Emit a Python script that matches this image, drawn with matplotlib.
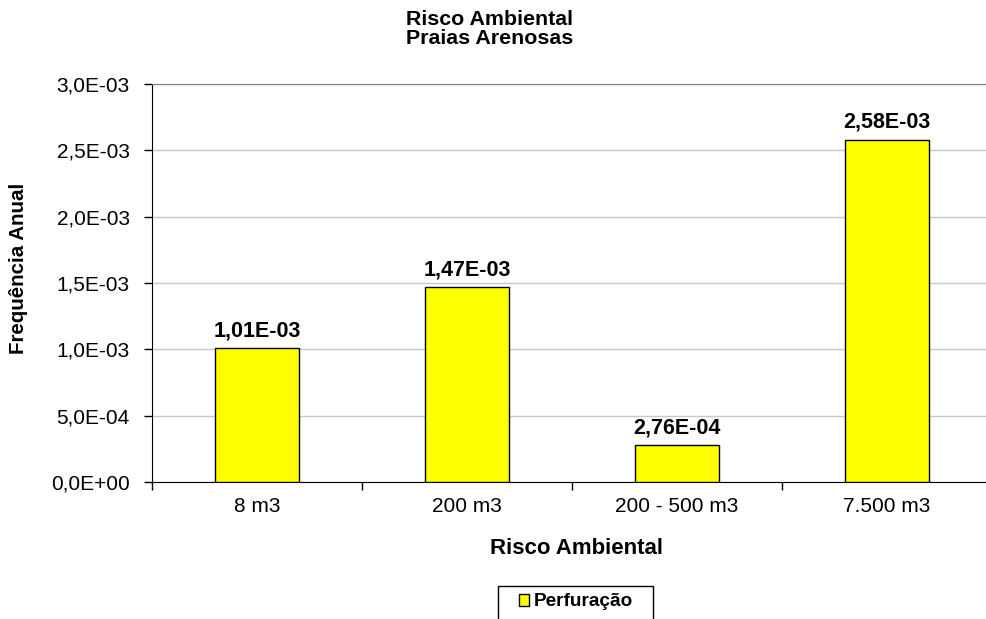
import matplotlib
matplotlib.use('Agg')
import matplotlib.pyplot as plt
from matplotlib.ticker import FuncFormatter, FixedLocator
from matplotlib.patches import Rectangle

plt.rcParams['font.family'] = ['Liberation Sans', 'DejaVu Sans']

# Dados
categorias = ['8 m3', '200 m3', '200 - 500 m3', '7.500 m3']
valores = [1.01e-03, 1.47e-03, 2.76e-04, 2.58e-03]
rotulos = ['1,01E-03', '1,47E-03', '2,76E-04', '2,58E-03']
serie = 'Perfuração'

W, H = 987, 619
fig = plt.figure(figsize=(W / 100, H / 100), dpi=100)
ax = fig.add_axes([152 / W, 1 - 482 / H, 840 / W, 398 / H])

x = list(range(len(categorias)))
ax.bar(x, valores, width=0.4, color='#ffff00', edgecolor='black', linewidth=1, zorder=3)

# Rótulos de dados
for xi, v, r in zip(x, valores, rotulos):
    ax.annotate(r, (xi, v), xytext=(0, 5), textcoords='offset points',
                ha='center', va='bottom', fontsize=15.5, fontweight='bold')

ax.set_xlim(-0.5, len(categorias) - 0.5)
ax.set_ylim(0, 3.0e-03)
ax.set_yticks([i * 5e-04 for i in range(7)])
ax.yaxis.set_major_formatter(FuncFormatter(lambda v, p: f"{v:.1E}".replace('.', ',')))
ax.grid(axis='y', color='#c8c8c8', linewidth=1, zorder=0)

# ticks do eixo x nas divisões entre categorias
ax.set_xticks(x)
ax.set_xticklabels(categorias)
ax.tick_params(axis='x', which='major', length=0, labelsize=15, pad=11)
ax.xaxis.set_minor_locator(FixedLocator([i - 0.5 for i in range(len(categorias) + 1)]))
ax.tick_params(axis='x', which='minor', length=6, width=1, direction='out')
ax.tick_params(axis='y', length=6, width=1, direction='out', labelsize=15, pad=10)

for s in ['top', 'right']:
    ax.spines[s].set_color('#808080')
for s in ['left', 'bottom']:
    ax.spines[s].set_color('black')

fig.text(577 / W, 1 - 549 / H, 'Risco Ambiental', ha='center', va='center',
         fontsize=16, fontweight='bold')
fig.text(19 / W, 1 - 268 / H, 'Frequência Anual', rotation=90, ha='center', va='center',
         fontsize=14.8, fontweight='bold')
fig.text(490 / W, 1 - 29 / H, 'Risco Ambiental\nPraias Arenosas', ha='center', va='center',
         fontsize=15.4, fontweight='bold', linespacing=1.0)

# Legenda (moldura desenhada à parte)
fig.patches.append(Rectangle((498 / W, -0.02), 155 / W, 1 - 586 / H + 0.02,
                             transform=fig.transFigure, facecolor='none',
                             edgecolor='black', linewidth=1))
leg = ax.legend([Rectangle((0, 0), 1, 1, facecolor='#ffff00', edgecolor='black', linewidth=1)],
                [serie], loc='center', bbox_to_anchor=(576 / W, 1 - 602 / H),
                bbox_transform=fig.transFigure, frameon=False,
                prop={'size': 13.7, 'weight': 'bold'}, handlelength=0.55, handleheight=0.55,
                handletextpad=0.25, borderpad=0, borderaxespad=0)

fig.savefig('out.png', dpi=100)
